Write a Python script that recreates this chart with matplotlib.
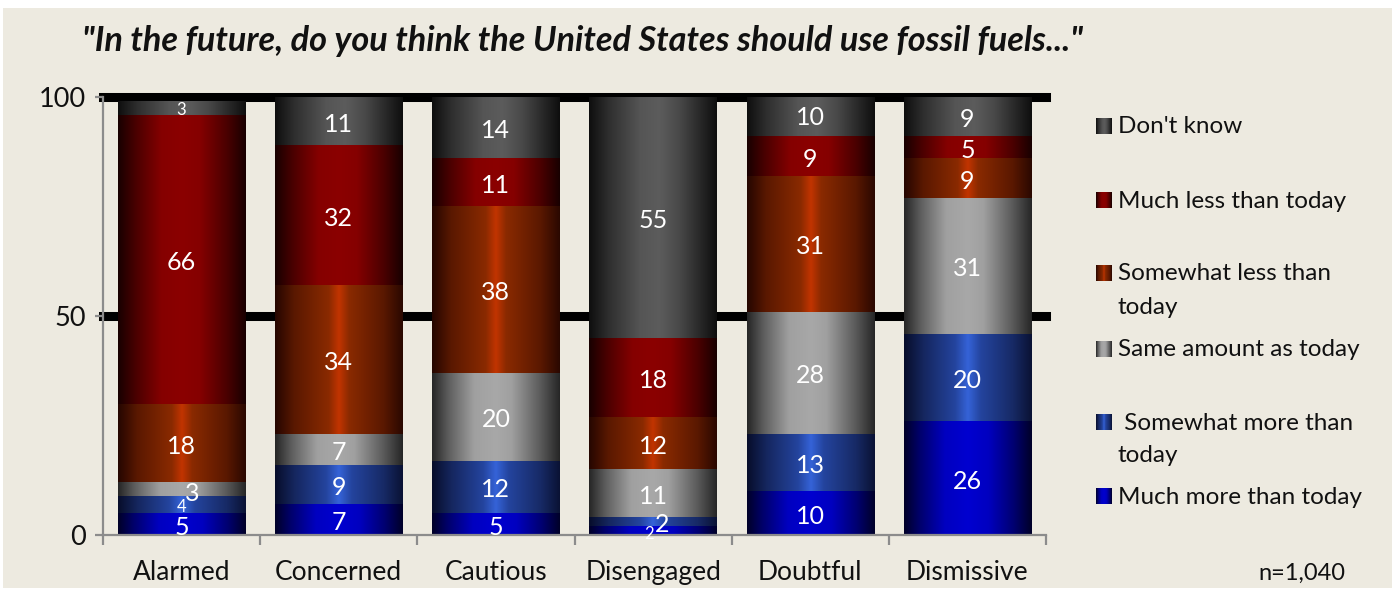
import numpy as np
import matplotlib
matplotlib.use("Agg")
import matplotlib.pyplot as plt
from matplotlib.colors import LinearSegmentedColormap
from matplotlib.patches import Rectangle

plt.rcParams['font.family'] = ['Lato', 'DejaVu Sans']

# ---------------- data ----------------
categories = ["Alarmed", "Concerned", "Cautious", "Disengaged", "Doubtful", "Dismissive"]
series_names = ["Much more than today", "Somewhat more than today", "Same amount as today",
                "Somewhat less than today", "Much less than today", "Don't know"]
much_more = [5, 7, 5, 2, 10, 26]
somewhat_more = [4, 9, 12, 2, 13, 20]
same_amount = [3, 7, 20, 11, 28, 31]
somewhat_less = [18, 34, 38, 12, 31, 9]
much_less = [66, 32, 11, 18, 9, 5]
dont_know = [3, 11, 14, 55, 10, 9]
series_values = [much_more, somewhat_more, same_amount, somewhat_less, much_less, dont_know]
legend_labels = ["Don't know", "Much less than today", "Somewhat less than\ntoday",
                 "Same amount as today", " Somewhat more than\ntoday", "Much more than today"]
yticks = [0, 50, 100]
title = '"In the future, do you think the United States should use fossil fuels..."'
note = "n=1,040"

# ---------------- styles ----------------
W, H = 1395, 591
BG = "#EDEAE0"
grad_stops = {
    "Much more than today": [(0, "#000028"), (0.12, "#00006A"), (0.32, "#0000C0"), (0.5, "#0000D0"),
                             (0.66, "#0000C0"), (0.86, "#000070"), (1, "#000028")],
    "Somewhat more than today": [(0, "#070D2A"), (0.15, "#15265E"), (0.40, "#24449E"), (0.5, "#3563D8"),
                                 (0.60, "#24449E"), (0.85, "#172A66"), (1, "#0A1234")],
    "Same amount as today": [(0, "#262626"), (0.13, "#5E5E5E"), (0.33, "#A0A0A0"), (0.5, "#A8A8A8"),
                             (0.62, "#A0A0A0"), (0.85, "#5A5A5A"), (1, "#262626")],
    "Somewhat less than today": [(0, "#250600"), (0.15, "#5A1800"), (0.42, "#8A2A00"), (0.5, "#C23400"),
                                 (0.58, "#8A2A00"), (0.85, "#5A1800"), (1, "#2A0800")],
    "Much less than today": [(0, "#180000"), (0.14, "#4A0000"), (0.34, "#850000"), (0.5, "#8B0000"),
                             (0.64, "#850000"), (0.86, "#480000"), (1, "#180000")],
    "Don't know": [(0, "#0E0E0E"), (0.15, "#2E2E2E"), (0.40, "#555555"), (0.55, "#5C5C5C"),
                   (0.70, "#4A4A4A"), (0.88, "#262626"), (1, "#0E0E0E")],
}

def cmap_for(name):
    return LinearSegmentedColormap.from_list(name, grad_stops[name])

def gradient_img(name, n=256):
    cm = cmap_for(name)
    return cm(np.linspace(0, 1, n))[None, :, :]

def fx(x):
    return x / W

def fy(y):
    return 1 - y / H

fig = plt.figure(figsize=(W / 100, H / 100), dpi=100)
fig.patch.set_facecolor("white")
fig.patches.append(Rectangle((fx(3), fy(588)), fx(1389), (580) / H, transform=fig.transFigure,
                             facecolor=BG, edgecolor="none", zorder=-5))

ax = fig.add_axes([fx(103), fy(535), fx(1046) - fx(103), (535 - 97) / H])
ax.set_facecolor("none")

x = np.arange(len(categories))
bar_w = 0.81
bottom = np.zeros(len(categories))
for name, vals in zip(series_names, series_values):
    vals = np.array(vals, dtype=float)
    bars = ax.bar(x, vals, bar_w, bottom=bottom, color=grad_stops[name][3][1], zorder=2, linewidth=0)
    img = gradient_img(name)
    for b in bars:
        x0, y0 = b.get_x(), b.get_y()
        ax.imshow(img, extent=[x0, x0 + b.get_width(), y0, y0 + b.get_height()],
                  aspect="auto", zorder=2.1, interpolation="bilinear")
    bottom += vals

# value labels
bottom = np.zeros(len(categories))
small = {("Don't know", 0), ("Somewhat more than today", 0), ("Much more than today", 3)}
offsets_px = {("Same amount as today", 0): (11, -1), ("Somewhat more than today", 3): (9, 0),
              ("Much more than today", 3): (-4, 0), ("Don't know", 0): (0, 1)}
for name, vals in zip(series_names, series_values):
    for i, v in enumerate(vals):
        dx, dy = offsets_px.get((name, i), (0, 0))
        fs = 12 if (name, i) in small else 18
        ax.annotate(str(v), xy=(x[i], bottom[i] + v / 2), xytext=(dx * 0.72, (dy - 3) * 0.72),
                    textcoords="offset points", ha="center", va="center",
                    color="white", fontsize=fs, zorder=5)
    bottom += np.array(vals)

ax.set_xlim(-0.5, len(categories) - 0.5)
ax.set_ylim(0, 100)

for yv in [50, 100]:
    ax.axhline(yv, color="black", lw=6.5, zorder=1, clip_on=False)

for s in ["top", "right"]:
    ax.spines[s].set_visible(False)
for s in ["left", "bottom"]:
    ax.spines[s].set_color("#8C8C8C")
    ax.spines[s].set_linewidth(1.6)
    ax.spines[s].set_zorder(3)

ax.set_yticks(yticks)
ax.set_yticklabels([str(t) for t in yticks], fontsize=19.5, color="#111111")
ax.tick_params(axis="y", length=6, width=1.6, color="#8C8C8C", pad=6)
ax.set_xticks(x)
ax.set_xticklabels(categories, fontsize=19, color="#111111")
ax.tick_params(axis="x", length=0, pad=18)
ax.set_xticks(np.arange(-0.5, len(categories)), minor=True)
ax.tick_params(axis="x", which="minor", length=7, width=1.6, color="#8C8C8C")

fig.text(fx(82), fy(41), title, fontsize=24.7, fontweight="bold", fontstyle="italic",
         ha="left", va="center", color="#111111")

# legend (manual, gradient swatches)
legend_y = [126, 200, 273, 349, 422, 496]
legend_order = list(reversed(series_names))
for name, lab, yy in zip(legend_order, legend_labels, legend_y):
    sw = fig.add_axes([fx(1096), fy(yy + 8), 16 / W, 16 / H])
    sw.imshow(gradient_img(name), aspect="auto", extent=[0, 1, 0, 1], interpolation="bilinear")
    sw.set_axis_off()
    for k, line in enumerate(lab.split("\n")):
        fig.text(fx(1118), fy(yy + 1 + 33 * k), line, fontsize=17.5, ha="left", va="center", color="#111111")

fig.text(fx(1258), fy(573), note, fontsize=17, ha="left", va="center", color="#111111")

fig.savefig("out.png", dpi=100, facecolor="white")
